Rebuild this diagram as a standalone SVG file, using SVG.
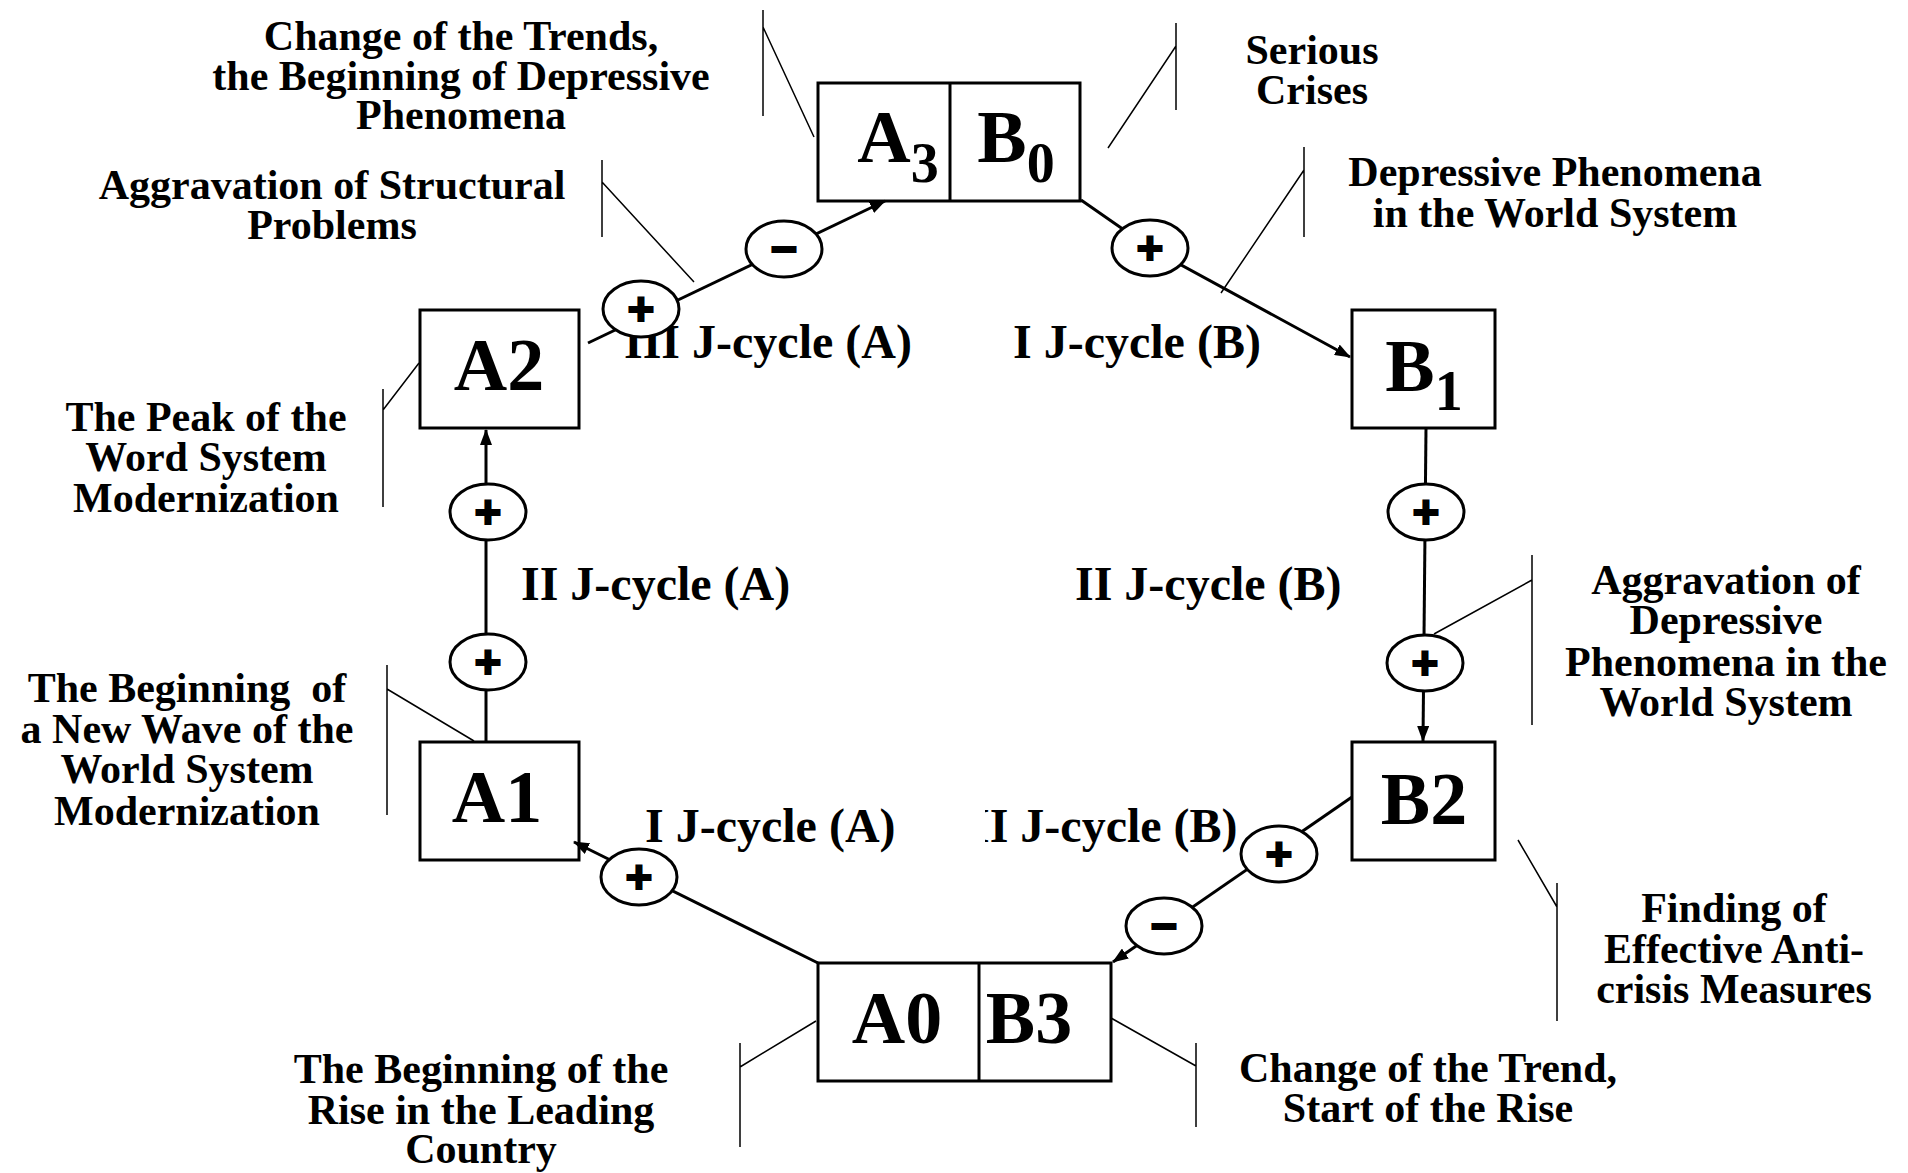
<svg xmlns="http://www.w3.org/2000/svg" width="1908" height="1173" viewBox="0 0 1908 1173">
<style>
.box{fill:#fff;stroke:#000;stroke-width:3}
.bt{font-family:"Liberation Serif","Times New Roman",serif;font-weight:bold;font-size:74px;text-anchor:middle;fill:#000}
.sub{font-size:56px}
.lbl{font-family:"Liberation Serif","Times New Roman",serif;font-weight:bold;font-size:42px;text-anchor:middle;fill:#000}
.jc{font-family:"Liberation Serif","Times New Roman",serif;font-weight:bold;font-size:48px;fill:#000}
.con{fill:none;stroke:#000;stroke-width:3}
.lead{fill:none;stroke:#000;stroke-width:1.5}
.sig{fill:#fff;stroke:#000;stroke-width:3}
.sg{font-family:"Liberation Sans",Arial,sans-serif;font-weight:bold;font-size:46px;text-anchor:middle;fill:#000;stroke:#000;stroke-width:2}
</style>
<defs>
<marker id="arr" viewBox="0 0 16 12" refX="15" refY="6" markerWidth="16" markerHeight="12" markerUnits="userSpaceOnUse" orient="auto">
<path d="M0,0 L16,6 L0,12 Z" fill="#000"/>
</marker>
<clipPath id="clipJ"><rect x="985" y="790" width="320" height="70"/></clipPath>
</defs>

<g id="node-A3B0">
<rect class="box" x="818" y="83" width="262" height="118"/>
<line x1="950" y1="83" x2="950" y2="201" stroke="#000" stroke-width="3"/>
<text class="bt" x="898" y="162">A<tspan class="sub" dy="20">3</tspan></text>
<text class="bt" x="1016" y="162">B<tspan class="sub" dy="20">0</tspan></text>
</g>
<g id="node-A2">
<rect class="box" x="420" y="310" width="159" height="118"/>
<text class="bt" x="499" y="390">A2</text>
</g>
<g id="node-B1">
<rect class="box" x="1352" y="310" width="143" height="118"/>
<text class="bt" x="1424" y="391">B<tspan class="sub" dy="19">1</tspan></text>
</g>
<g id="node-A1">
<rect class="box" x="420" y="742" width="159" height="118"/>
<text class="bt" x="497" y="822">A1</text>
</g>
<g id="node-B2">
<rect class="box" x="1352" y="742" width="143" height="118"/>
<text class="bt" x="1424" y="824">B2</text>
</g>
<g id="node-A0B3">
<rect class="box" x="818" y="963" width="293" height="118"/>
<line x1="979" y1="963" x2="979" y2="1081" stroke="#000" stroke-width="3"/>
<text class="bt" x="897" y="1043">A0</text>
<text class="bt" x="1029" y="1043">B3</text>
</g>

<g id="labels">
<text class="lbl" x="461"><tspan x="461" y="50">Change of the Trends,</tspan><tspan x="461" y="90">the Beginning of Depressive</tspan><tspan x="461" y="129">Phenomena</tspan></text>
<text class="lbl" x="332"><tspan x="332" y="199">Aggravation of Structural</tspan><tspan x="332" y="239">Problems</tspan></text>
<text class="lbl" x="1312"><tspan x="1312" y="64">Serious</tspan><tspan x="1312" y="104">Crises</tspan></text>
<text class="lbl" x="1555"><tspan x="1555" y="186">Depressive Phenomena</tspan><tspan x="1555" y="227">in the World System</tspan></text>
<text class="lbl" x="206"><tspan x="206" y="431">The Peak of the</tspan><tspan x="206" y="471">Word System</tspan><tspan x="206" y="512">Modernization</tspan></text>
<text class="lbl" x="187" xml:space="preserve"><tspan x="187" y="702">The Beginning  of</tspan><tspan x="187" y="743">a New Wave of the</tspan><tspan x="187" y="783">World System</tspan><tspan x="187" y="825">Modernization</tspan></text>
<text class="lbl" x="1726"><tspan x="1726" y="594">Aggravation of</tspan><tspan x="1726" y="634">Depressive</tspan><tspan x="1726" y="676">Phenomena in the</tspan><tspan x="1726" y="716">World System</tspan></text>
<text class="lbl" x="1734"><tspan x="1734" y="922">Finding of</tspan><tspan x="1734" y="963">Effective Anti-</tspan><tspan x="1734" y="1003">crisis Measures</tspan></text>
<text class="lbl" x="1428"><tspan x="1428" y="1082">Change of the Trend,</tspan><tspan x="1428" y="1122">Start of the Rise</tspan></text>
<text class="lbl" x="481"><tspan x="481" y="1083">The Beginning of the</tspan><tspan x="481" y="1124">Rise in the Leading</tspan><tspan x="481" y="1163">Country</tspan></text>
</g>

<g id="cycle-labels">
<text class="jc" x="624" y="358">III J-cycle (A)</text>
<text class="jc" x="1013" y="358">I J-cycle (B)</text>
<text class="jc" x="521" y="600">II J-cycle (A)</text>
<text class="jc" x="1075" y="600">II J-cycle (B)</text>
<text class="jc" x="645" y="842">I J-cycle (A)</text>
<text class="jc" x="971" y="842" clip-path="url(#clipJ)">II J-cycle (B)</text>
</g>

<g id="connectors">
<line class="con" x1="588" y1="343" x2="885" y2="201" marker-end="url(#arr)"/>
<polyline class="con" points="1081,200 1150,248 1350,357" marker-end="url(#arr)"/>
<line class="con" x1="1426" y1="428" x2="1423" y2="741" marker-end="url(#arr)"/>
<line class="con" x1="1352" y1="797" x2="1113" y2="962" marker-end="url(#arr)"/>
<line class="con" x1="818" y1="963" x2="574" y2="842" marker-end="url(#arr)"/>
<line class="con" x1="486" y1="742" x2="486" y2="430" marker-end="url(#arr)"/>
</g>

<g id="leaders">
<path class="lead" d="M763,10 V116 M763,27 L814,137"/>
<path class="lead" d="M602,160 V237 M602,182 L694,282"/>
<path class="lead" d="M1176,23 V110 M1176,46 L1108,148"/>
<path class="lead" d="M1304,147 V237 M1304,170 L1221,293"/>
<path class="lead" d="M383,389 V507 M383,410 L419,363"/>
<path class="lead" d="M387,665 V815 M387,689 L474,741"/>
<path class="lead" d="M1532,555 V725 M1532,580 L1434,634"/>
<path class="lead" d="M1557,883 V1021 M1518,840 L1557,907"/>
<path class="lead" d="M1196,1043 V1127 M1111,1018 L1196,1066"/>
<path class="lead" d="M740,1043 V1147 M740,1067 L816,1021"/>
</g>

<g id="signs">
<g id="s1"><ellipse class="sig" cx="641" cy="309" rx="38" ry="28"/><text class="sg" x="641" y="325">+</text></g>
<g id="s2"><ellipse class="sig" cx="784" cy="249" rx="38" ry="28"/><text class="sg" x="784" y="265">−</text></g>
<g id="s3"><ellipse class="sig" cx="1150" cy="248" rx="38" ry="28"/><text class="sg" x="1150" y="264">+</text></g>
<g id="s4"><ellipse class="sig" cx="1426" cy="512" rx="38" ry="28"/><text class="sg" x="1426" y="528">+</text></g>
<g id="s5"><ellipse class="sig" cx="1425" cy="663" rx="38" ry="28"/><text class="sg" x="1425" y="679">+</text></g>
<g id="s6"><ellipse class="sig" cx="1279" cy="854" rx="38" ry="28"/><text class="sg" x="1279" y="870">+</text></g>
<g id="s7"><ellipse class="sig" cx="1164" cy="926" rx="38" ry="28"/><text class="sg" x="1164" y="942">−</text></g>
<g id="s8"><ellipse class="sig" cx="639" cy="877" rx="38" ry="28"/><text class="sg" x="639" y="893">+</text></g>
<g id="s9"><ellipse class="sig" cx="488" cy="512" rx="38" ry="28"/><text class="sg" x="488" y="528">+</text></g>
<g id="s10"><ellipse class="sig" cx="488" cy="662" rx="38" ry="28"/><text class="sg" x="488" y="678">+</text></g>
</g>
</svg>
